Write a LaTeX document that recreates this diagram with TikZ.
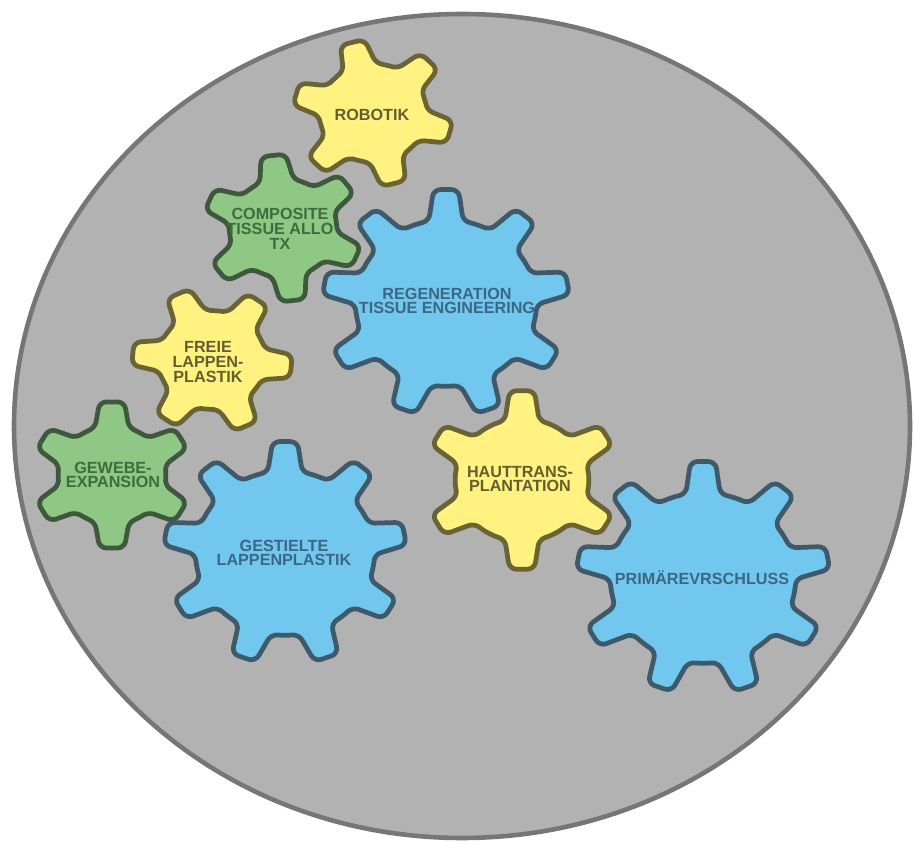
\documentclass[tikz,border=0pt]{standalone}
\usepackage{fontspec}
\setmainfont{Liberation Sans}
\usepackage{xcolor}
\usepackage{tikz}
\usetikzlibrary{calc}
\definecolor{gr-disc}{RGB}{178,178,178}
\definecolor{gr-rim}{RGB}{118,118,118}
\definecolor{gr-blue}{RGB}{114,199,238}
\definecolor{gr-blueline}{RGB}{62,90,106}
\definecolor{gr-bluetext}{RGB}{58,104,132}
\definecolor{gr-yellow}{RGB}{255,242,128}
\definecolor{gr-yellowline}{RGB}{106,99,52}
\definecolor{gr-yellowtext}{RGB}{100,94,46}
\definecolor{gr-green}{RGB}{142,200,132}
\definecolor{gr-greenline}{RGB}{62,88,62}
\definecolor{gr-greentext}{RGB}{62,108,62}
\tikzset{
  gr@disc/.style={fill=gr-disc, draw=gr-rim, line width=2.6pt},
  gr@wheel/.style={line width=2.7pt, rounded corners=4pt, line join=round},
  gr@blue/.style={gr@wheel, fill=gr-blue, draw=gr-blueline},
  gr@yellow/.style={gr@wheel, fill=gr-yellow, draw=gr-yellowline},
  gr@green/.style={gr@wheel, fill=gr-green, draw=gr-greenline},
  gr@lbl/.style={align=center, inner sep=0pt, font=\fontsize{9.2}{8.4}\selectfont\bfseries},
}
% gear outline: #1 style, #2 centre, #3 teeth, #4 body radius, #5 tip radius, #6 angle of first tooth
\newcommand{\drawgear}[6]{%
  \begin{scope}[shift={#2}, xscale=1.087]
    \pgfmathsetmacro{\gstep}{360/#3}
    \pgfmathsetmacro{\gbase}{deg(16/#4)}
    \pgfmathsetmacro{\gtip}{deg(11.5/#5)}
    \pgfmathtruncatemacro{\glast}{#3-1}
    \draw[#1] ({#6-\gtip}:#5)
      \foreach \i in {0,...,\glast}{
        -- ({#6+\i*\gstep+\gtip}:#5) -- ({#6+\i*\gstep+\gbase}:#4)
        arc[start angle={#6+\i*\gstep+\gbase}, end angle={#6+(\i+1)*\gstep-\gbase}, radius=#4]
        \ifnum\i<\glast -- ({#6+(\i+1)*\gstep-\gtip}:#5)\fi
      } -- cycle;
  \end{scope}}

\begin{document}
\begin{tikzpicture}[x=0.02cm, y=0.02cm]
  \useasboundingbox (0,0) rectangle (915,848);
  \draw[gr@disc] (462,422) ellipse [x radius=448, y radius=412];

  % small wheels
  \drawgear{gr@yellow}{(373,735)}{6}{49}{74}{45}
  \drawgear{gr@green}{(283,620)}{6}{49}{74}{97}
  \drawgear{gr@yellow}{(212,488)}{6}{49}{74}{55}
  \drawgear{gr@green}{(112,373)}{6}{49}{74}{90}
  \drawgear{gr@yellow}{(522,368)}{6}{61}{90}{90}
  % large wheels
  \drawgear{gr@blue}{(446,545)}{9}{83}{114}{90}
  \drawgear{gr@blue}{(285,295)}{9}{82}{112}{90}
  \drawgear{gr@blue}{(703,270)}{9}{85}{117}{90}

  \node[gr@lbl, text=gr-yellowtext] (robotik) at (372,733) {ROBOTIK};
  \node[gr@lbl, text=gr-greentext]  (cta)     at (280,619) {COMPOSITE\\TISSUE ALLO\\TX};
  \node[gr@lbl, text=gr-bluetext]   (regen)   at (447,547) {REGENERATION\\TISSUE ENGINEERING};
  \node[gr@lbl, text=gr-yellowtext] (freie)   at (208,486) {FREIE\\LAPPEN-\\PLASTIK};
  \node[gr@lbl, text=gr-greentext]  (gewebe)  at (113,373) {GEWEBE-\\EXPANSION};
  \node[gr@lbl, text=gr-bluetext]   (gestielt) at (284,295) {GESTIELTE\\LAPPENPLASTIK};
  \node[gr@lbl, text=gr-yellowtext] (haut)    at (520,369) {HAUTTRANS-\\PLANTATION};
  \node[gr@lbl, text=gr-bluetext]   (primaer) at (702,270) {PRIMÄREVRSCHLUSS};
\end{tikzpicture}
\end{document}
